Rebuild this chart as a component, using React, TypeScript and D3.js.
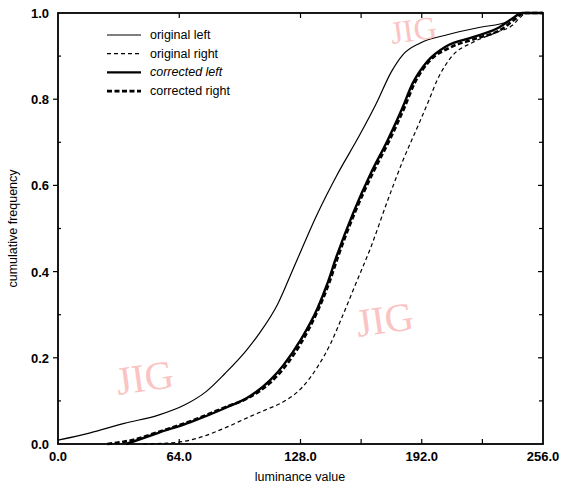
import React, { useEffect, useRef } from "react";
import * as d3 from "d3";

// luminance value, cumulative frequency
const originalLeft: [number, number][] = [
  [0, 0.009], [17, 0.026], [35, 0.048], [53, 0.067], [67, 0.091], [78, 0.121],
  [88, 0.163], [99, 0.215], [106, 0.255], [116, 0.325], [124, 0.405], [137, 0.535],
  [147, 0.622], [159, 0.715], [168, 0.79], [176, 0.864], [182, 0.903], [191, 0.93],
  [205, 0.949], [223, 0.967], [237, 0.979], [245, 1.0], [256, 1.0],
];
const originalRight: [number, number][] = [
  [45, 0], [63, 0.004], [74, 0.014], [88, 0.037], [101, 0.063], [110, 0.08],
  [119, 0.098], [129, 0.132], [137, 0.179], [144, 0.234], [150, 0.295], [157, 0.37],
  [165, 0.455], [174, 0.565], [182, 0.657], [191, 0.748], [196, 0.8], [200, 0.843],
  [208, 0.9], [219, 0.932], [232, 0.956], [240, 0.972], [244, 0.99], [247, 1.0], [256, 1.0],
];
const correctedLeft: [number, number][] = [
  [36, 0], [53, 0.026], [70, 0.051], [88, 0.083], [101, 0.11], [112, 0.148],
  [119, 0.183], [128, 0.241], [137, 0.315], [142, 0.37], [147, 0.435], [156, 0.538],
  [165, 0.627], [174, 0.705], [182, 0.782], [187, 0.835], [195, 0.888], [205, 0.923],
  [219, 0.944], [233, 0.967], [240, 0.988], [245, 1.0], [256, 1.0],
];
const correctedRight: [number, number][] = [
  [26, 0], [40, 0.01], [53, 0.028], [70, 0.053], [88, 0.085], [101, 0.108],
  [112, 0.142], [119, 0.175], [128, 0.232], [137, 0.308], [143, 0.372], [148, 0.437],
  [157, 0.54], [166, 0.627], [175, 0.705], [183, 0.782], [188, 0.835], [196, 0.888],
  [207, 0.92], [220, 0.94], [234, 0.962], [241, 0.985], [246, 1.0], [256, 1.0],
];

const xTicks = [0, 64, 128, 192, 256];
const xMinorTicks = [160, 224];
const yTicks = [0, 0.2, 0.4, 0.6, 0.8, 1.0];
const yMinorTicks = [0.1, 0.3, 0.5, 0.7, 0.9];

const seriesNames = ["original left", "original right", "corrected left", "corrected right"];

const App = () => {
  const svgRef = useRef<SVGSVGElement>(null);

  useEffect(() => {
    const svg = d3.select(svgRef.current);
    svg.selectAll("*").remove();

    const width = 562;
    const height = 488;
    const margin = { top: 13, right: 19, bottom: 44, left: 58 };
    const w = width - margin.left - margin.right;
    const h = height - margin.top - margin.bottom;
    const font = "Arial, 'Liberation Sans', sans-serif";

    const x = d3.scaleLinear().domain([0, 256]).range([0, w]);
    const y = d3.scaleLinear().domain([0, 1]).range([h, 0]);

    const g = svg.append("g").attr("transform", `translate(${margin.left},${margin.top})`);

    // watermarks
    const marks = [
      { tx: 118, ty: 395, size: 40 },
      { tx: 358, ty: 337, size: 40 },
      { tx: 392, ty: 44, size: 32 },
    ];
    marks.forEach((m) => {
      svg
        .append("text")
        .attr("transform", `translate(${m.tx},${m.ty}) rotate(-8)`)
        .style("font-family", "'Liberation Serif', 'DejaVu Serif', serif")
        .style("font-size", `${m.size}px`)
        .attr("fill", "#fbc4c4")
        .text("JIG");
    });

    const styles = [
      { data: originalLeft, width: 1.2, dash: null },
      { data: originalRight, width: 1.2, dash: "4,3" },
      { data: correctedLeft, width: 2.4, dash: null },
      { data: correctedRight, width: 2.6, dash: "5,2.5" },
    ];

    const line = d3
      .line<[number, number]>()
      .curve(d3.curveMonotoneX)
      .x((d) => x(d[0]))
      .y((d) => y(d[1]));

    styles.forEach((s) => {
      g.append("path")
        .attr("d", line(s.data))
        .attr("fill", "none")
        .attr("stroke", "#000")
        .attr("stroke-width", s.width)
        .attr("stroke-dasharray", s.dash);
    });

    // frame
    g.append("rect")
      .attr("width", w)
      .attr("height", h)
      .attr("fill", "none")
      .attr("stroke", "#000")
      .attr("stroke-width", 1.8);

    // x ticks (inward, bottom and top)
    [...xTicks.slice(1, -1), ...xMinorTicks].forEach((t) => {
      g.append("line").attr("x1", x(t)).attr("x2", x(t)).attr("y1", h).attr("y2", h - 5)
        .attr("stroke", "#000").attr("stroke-width", 1.2);
      g.append("line").attr("x1", x(t)).attr("x2", x(t)).attr("y1", 0).attr("y2", 5)
        .attr("stroke", "#000").attr("stroke-width", 1.2);
    });

    // y ticks: outward majors on left, inward minor ticks, inward on right
    yTicks.slice(1, -1).forEach((t) => {
      g.append("line").attr("x1", -5).attr("x2", 0).attr("y1", y(t)).attr("y2", y(t))
        .attr("stroke", "#000").attr("stroke-width", 1.2);
      g.append("line").attr("x1", w).attr("x2", w - 5).attr("y1", y(t)).attr("y2", y(t))
        .attr("stroke", "#000").attr("stroke-width", 1.2);
    });
    yMinorTicks.forEach((t) => {
      g.append("line").attr("x1", 0).attr("x2", 3).attr("y1", y(t)).attr("y2", y(t))
        .attr("stroke", "#000").attr("stroke-width", 1.2);
      g.append("line").attr("x1", w).attr("x2", w - 4).attr("y1", y(t)).attr("y2", y(t))
        .attr("stroke", "#000").attr("stroke-width", 1.2);
    });

    // tick labels
    g.selectAll(".xlab")
      .data(xTicks)
      .join("text")
      .attr("x", (d) => x(d))
      .attr("y", h + 17)
      .attr("text-anchor", "middle")
      .style("font-family", font)
      .style("font-size", "13px")
      .style("font-weight", "bold")
      .text((d) => d3.format(".1f")(d));

    g.selectAll(".ylab")
      .data(yTicks)
      .join("text")
      .attr("x", -9)
      .attr("y", (d) => y(d) + 5)
      .attr("text-anchor", "end")
      .style("font-family", font)
      .style("font-size", "13px")
      .style("font-weight", "bold")
      .text((d) => d3.format(".1f")(d));

    // axis titles
    svg.append("text")
      .attr("x", 300)
      .attr("y", 481)
      .attr("text-anchor", "middle")
      .style("font-family", font)
      .style("font-size", "12.5px")
      .text("luminance value");

    svg.append("text")
      .attr("transform", `translate(17,${margin.top + h / 2}) rotate(-90)`)
      .attr("text-anchor", "middle")
      .style("font-family", font)
      .style("font-size", "12.5px")
      .text("cumulative frequency");

    // legend
    const legend = svg.append("g").attr("transform", "translate(107,35)");
    seriesNames.forEach((name, i) => {
      const row = legend.append("g").attr("transform", `translate(0,${i * 18.7})`);
      row.append("line")
        .attr("x1", 0).attr("x2", 34).attr("y1", 0).attr("y2", 0)
        .attr("stroke", "#000")
        .attr("stroke-width", styles[i].width)
        .attr("stroke-dasharray", styles[i].dash);
      row.append("text")
        .attr("x", 43)
        .attr("y", 4)
        .style("font-family", font)
        .style("font-size", "12.5px")
        .style("font-style", i === 2 ? "italic" : "normal")
        .text(name);
    });
  }, []);

  return (
    <svg
      ref={svgRef}
      width={562}
      height={488}
      style={{ position: "absolute", left: 0, top: 0, background: "#fff" }}
    />
  );
};

export default App;
